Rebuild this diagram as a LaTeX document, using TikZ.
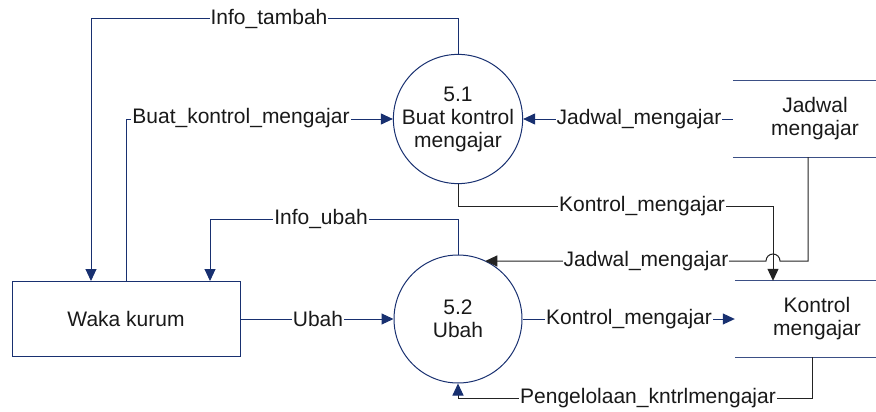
\documentclass[tikz,border=0pt]{standalone}
\usepackage{fontspec}
\setmainfont{Liberation Sans}
\usetikzlibrary{arrows.meta}
\definecolor{navy}{RGB}{24,48,112}
\definecolor{edge}{RGB}{35,35,35}
\definecolor{txt}{RGB}{25,25,25}
\tikzset{
  x=1pt, y=-1pt,
  every node/.style={font=\fontsize{21}{23}\selectfont, text=txt},
  proc/.style={circle, draw=navy, line width=1pt, minimum size=128pt, inner sep=0pt, align=center},
  ent/.style={rectangle, draw=navy, line width=1pt, minimum width=228pt, minimum height=75pt},
  store/.style={minimum width=164pt, minimum height=76pt, inner sep=0pt, align=center},
  storeline/.style={draw=navy!85, line width=1pt},
  flow/.style={draw=navy, line width=1pt, -{Triangle[length=12pt,width=11pt]}},
  flowk/.style={draw=edge, line width=1pt, -{Triangle[length=12pt,width=11pt]}},
  lbl/.style={fill=white, inner sep=1pt},
}
\begin{document}
\begin{tikzpicture}
\useasboundingbox (0,0) rectangle (876,412);

% processes, external entity and data stores
\node[proc] (p51) at (458,119) {5.1\\Buat kontrol\\mengajar};
\node[proc] (p52) at (458,319) {5.2\\Ubah};
\node[ent] (waka) at (126,319) {Waka kurum};
\node[store] (jadwal) at (815,119) {Jadwal\\mengajar};
\node[store] (kontrol) at (817,319) {Kontrol\\mengajar};
\draw[storeline] (jadwal.north west) -- (jadwal.north east);
\draw[storeline] (jadwal.south west) -- (jadwal.south east);
\draw[storeline] (kontrol.north west) -- (kontrol.north east);
\draw[storeline] (kontrol.south west) -- (kontrol.south east);

% bend points of the flows
\coordinate (it) at (91,19);
\coordinate (iu) at (210,219);
\coordinate (kx) at (773,206);
\coordinate (jx) at (808,261);
\coordinate (py) at (812,398);

% data flows
\draw[flow] (p51.north) |- (it) -- (it |- waka.north);
\draw[flow] (waka.north) |- (p51.west);
\draw[flow] (jadwal.west) -- (p51.east);
\draw[flowk] (p51.south) |- (kx) -- (kx |- kontrol.north);
\draw[flowk] (jx |- jadwal.south) -- (jx) -- (780,261)
  arc[start angle=0, end angle=-180, radius=7] -- (p52.65 |- jx);
\draw[flow] (p52.north) |- (iu) -- (iu |- waka.north);
\draw[flow] (waka.east) -- (p52.west);
\draw[flow] (p52.east) -- (kontrol.west);
\draw[draw=edge, line width=1pt, -{Triangle[length=12pt,width=11pt,color=navy]}]
  (py |- kontrol.south) -- (py) -| (p52.south);

% flow labels
\node[lbl] (l1) at (269,19) {Info\_tambah};
\node[lbl] (l2) at (241,118) {Buat\_kontrol\_mengajar};
\node[lbl] (l3) at (639,119) {Jadwal\_mengajar};
\node[lbl] (l4) at (642,206) {Kontrol\_mengajar};
\node[lbl] (l5) at (646,261) {Jadwal\_mengajar};
\node[lbl] (l6) at (321,219) {Info\_ubah};
\node[lbl] (l7) at (318,319) {Ubah};
\node[lbl] (l8) at (629,319) {Kontrol\_mengajar};
\node[lbl] (l9) at (648,398) {Pengelolaan\_kntrlmengajar};
\end{tikzpicture}
\end{document}
